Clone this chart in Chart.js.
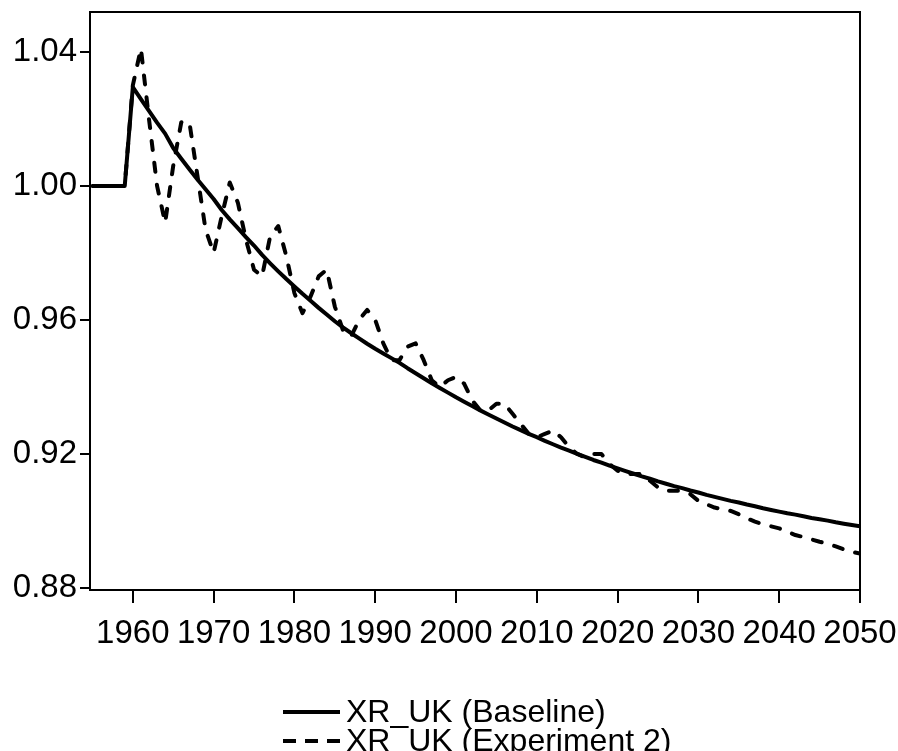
<!DOCTYPE html>
<html>
<head>
<meta charset="utf-8">
<script src="https://cdn.jsdelivr.net/npm/chart.js@4.4.1/dist/chart.umd.min.js"></script>
<style>
  html, body { margin: 0; padding: 0; background: #ffffff; }
  #wrap { width: 898px; height: 751px; }
</style>
</head>
<body>
<div id="wrap"><canvas id="c" width="898" height="751"></canvas></div>
<script>
// ---- data ----
const years = [
  1955,1956,1957,1958,1959,1960,1961,1962,1963,1964,1965,1966,1967,1968,1969,
  1970,1971,1972,1973,1974,1975,1976,1977,1978,1979,1980,1981,1982,1983,1984,
  1985,1986,1987,1988,1989,1990,1991,1992,1993,1994,1995,1996,1997,1998,1999,
  2000,2001,2002,2003,2004,2005,2006,2007,2008,2009,2010,2011,2012,2013,2014,
  2015,2016,2017,2018,2019,2020,2021,2022,2023,2024,2025,2026,2027,2028,2029,
  2030,2031,2032,2033,2034,2035,2036,2037,2038,2039,2040,2041,2042,2043,2044,
  2045,2046,2047,2048,2049,2050
];

const baseline = [
  1.000,1.000,1.000,1.000,1.000,
  1.0295,1.0259,1.0224,1.0189,1.0156,1.0113,1.0081,1.0050,1.0019,0.9990,
  0.9961,0.9928,0.9900,0.9874,0.9847,0.9822,0.9794,0.9769,0.9745,0.9722,
  0.9700,0.9678,0.9657,0.9636,0.9616,0.9596,0.9578,0.9561,0.9545,0.9529,
  0.9514,0.9500,0.9486,0.9472,0.9456,0.9441,0.9426,0.9411,0.9397,0.9383,
  0.9369,0.9356,0.9343,0.9330,0.9318,0.9306,0.9294,0.9282,0.9271,0.9260,
  0.9250,0.9239,0.9229,0.9219,0.9210,0.9200,0.9191,0.9182,0.9174,0.9165,
  0.9157,0.9149,0.9141,0.9133,0.9126,0.9118,0.9111,0.9104,0.9098,0.9091,
  0.9085,0.9078,0.9072,0.9066,0.9060,0.9055,0.9049,0.9044,0.9038,0.9033,
  0.9028,0.9023,0.9019,0.9014,0.9009,0.9005,0.9001,0.8996,0.8992,0.8988,
  0.8984
];

const experiment2 = [
  1.000,1.000,1.000,1.000,1.000,
  1.030,1.041,1.020,1.000,0.989,1.006,1.019,1.019,1.003,0.987,
  0.980,0.991,1.001,0.995,0.984,0.975,0.973,0.985,0.988,0.979,
  0.968,0.962,0.967,0.973,0.975,0.964,0.957,0.955,0.960,0.963,
  0.960,0.953,0.948,0.948,0.952,0.953,0.948,0.942,0.940,0.942,
  0.943,0.941,0.936,0.933,0.933,0.935,0.935,0.932,0.929,0.926,
  0.925,0.926,0.927,0.925,0.922,0.920,0.919,0.920,0.920,0.917,
  0.915,0.914,0.914,0.914,0.912,0.910,0.909,0.909,0.909,0.908,
  0.906,0.905,0.9040,0.9035,0.9030,0.9020,0.9008,0.8998,0.8990,0.8984,
  0.8978,0.8968,0.8958,0.8952,0.8945,0.8938,0.8932,0.8924,0.8915,0.8908,
  0.8903
];

const xTickValues = [1960,1970,1980,1990,2000,2010,2020,2030,2040,2050];
const xTickLabels = ['1960','1970','1980','1990','2000','2010','2020','2030','2040','2050'];
const yTickValues = [0.88,0.92,0.96,1.00,1.04];
const yTickLabels = ['0.88','0.92','0.96','1.00','1.04'];
const seriesLabels = ['XR_UK (Baseline)','XR_UK (Experiment 2)'];

// ---- chart ----
const FONT = '"Liberation Sans", Arial, Helvetica, sans-serif';
const FONT_SIZE = 33;

const framePlugin = {
  id: 'frame',
  afterDatasetsDraw(chart) {
    const {ctx, chartArea: a} = chart;
    ctx.save();
    ctx.strokeStyle = '#000';
    ctx.lineWidth = 2;
    ctx.strokeRect(a.left, a.top, a.right - a.left, a.bottom - a.top);
    ctx.restore();
  }
};

const legendPlugin = {
  id: 'customLegend',
  afterDraw(chart) {
    const ctx = chart.ctx;
    const x0 = 283, x1 = 340, tx = 346;
    const rows = [712, 741];
    ctx.save();
    chart.data.datasets.forEach((ds, i) => {
      const y = rows[i];
      ctx.beginPath();
      ctx.strokeStyle = '#000';
      ctx.lineWidth = 4;
      ctx.lineCap = 'butt';
      ctx.setLineDash(ds.borderDash && ds.borderDash.length ? [13, 9] : []);
      ctx.moveTo(x0, y);
      ctx.lineTo(x1, y);
      ctx.stroke();
      ctx.setLineDash([]);
      ctx.fillStyle = '#000';
      ctx.font = '32px ' + FONT;
      ctx.textAlign = 'left';
      ctx.textBaseline = 'middle';
      ctx.fillText(ds.label, tx, y + 1);
    });
    ctx.restore();
  }
};

new Chart(document.getElementById('c'), {
  type: 'line',
  data: {
    datasets: [
      {
        label: seriesLabels[0],
        data: years.map((yr, i) => ({x: yr, y: baseline[i]})),
        borderColor: '#000',
        borderWidth: 4,
        pointRadius: 0,
        tension: 0,
        borderJoinStyle: 'round'
      },
      {
        label: seriesLabels[1],
        data: years.map((yr, i) => ({x: yr, y: experiment2[i]})),
        borderColor: '#000',
        borderWidth: 4,
        borderDash: [9, 13],
        borderCapStyle: 'round',
        borderJoinStyle: 'round',
        pointRadius: 0,
        tension: 0
      }
    ]
  },
  options: {
    responsive: false,
    animation: false,
    devicePixelRatio: 1,
    layout: { padding: { top: 12, right: 38, left: 0, bottom: 0 } },
    plugins: {
      legend: { display: false },
      tooltip: { enabled: false }
    },
    scales: {
      x: {
        type: 'linear',
        min: 1954.7,
        max: 2050,
        afterBuildTicks(scale) { scale.ticks = xTickValues.map(v => ({value: v})); },
        afterFit(scale) { scale.height = 161; scale.paddingLeft = 0; scale.paddingRight = 0; },
        ticks: {
          autoSkip: false,
          maxRotation: 0,
          minRotation: 0,
          padding: 11,
          color: '#000',
          font: { family: FONT, size: FONT_SIZE },
          callback: (v) => { const k = xTickValues.indexOf(v); return k >= 0 ? xTickLabels[k] : ''; }
        },
        grid: {
          display: true,
          drawOnChartArea: false,
          drawTicks: true,
          tickLength: 13,
          color: '#000',
          lineWidth: 2
        },
        border: { display: true, color: '#000', width: 2 }
      },
      y: {
        type: 'linear',
        min: 0.8794,
        max: 1.0519,
        afterBuildTicks(scale) { scale.ticks = yTickValues.map(v => ({value: v})); },
        afterFit(scale) { scale.width = 90; scale.paddingTop = 0; scale.paddingBottom = 0; },
        ticks: {
          autoSkip: false,
          padding: 3,
          color: '#000',
          font: { family: FONT, size: FONT_SIZE },
          callback: (v) => { const k = yTickValues.findIndex(t => Math.abs(t - v) < 1e-6); return k >= 0 ? yTickLabels[k] : ''; }
        },
        grid: {
          display: true,
          drawOnChartArea: false,
          drawTicks: true,
          tickLength: 10,
          color: '#000',
          lineWidth: 2
        },
        border: { display: true, color: '#000', width: 2 }
      }
    }
  },
  plugins: [framePlugin, legendPlugin]
});
</script>
</body>
</html>
